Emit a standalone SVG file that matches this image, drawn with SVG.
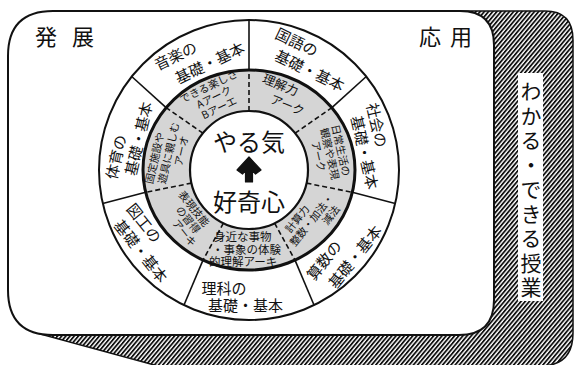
<svg xmlns="http://www.w3.org/2000/svg" width="576" height="365" viewBox="0 0 576 365">
<defs>
<pattern id="hatch" width="3.2" height="3.2" patternUnits="userSpaceOnUse" patternTransform="rotate(40)">
<rect width="3.2" height="3.2" fill="#fff"/>
<rect width="1.8" height="3.2" fill="#111"/>
</pattern>
<style>
text{font-family:"Noto Sans CJK JP","Noto Sans",sans-serif;fill:#111}
.o{font-size:15px;text-anchor:middle}
.i{font-size:10.5px;text-anchor:middle}
.big{font-size:22px}
.c{font-size:24px;text-anchor:middle}
.solid{stroke:#111;stroke-width:1.6;fill:none}
.dash{stroke:#111;stroke-width:1.6;stroke-dasharray:5 3;fill:none}
</style>
</defs>
<rect width="576" height="365" fill="#fff"/>

<g id="frame">
<path id="shadow" d="M460,11 L545,11 Q573,11 573,40 L573,333 Q573,366 540,366 L158,366 L40,334 Z" fill="url(#hatch)" stroke="#111" stroke-width="1.5"/>
<path id="board" d="M53,11 L460,11 Q494,11 494,45 L494,300 Q494,335 459,335 L53,335 Q8,335 8,290 L8,56 Q8,11 53,11 Z" fill="#fff" stroke="#111" stroke-width="2"/>
</g>

<g id="label-hatten"><text class="big" x="35" y="45" letter-spacing="15">発展</text></g>
<g id="label-ouyou"><text class="big" x="419" y="45" letter-spacing="9">応用</text></g>

<g id="side-label">
<rect x="518" y="73" width="25" height="228" fill="#fff"/>
<text x="531" y="81" writing-mode="vertical-rl" style="font-size:21px;letter-spacing:3.5px">わかる・できる授業</text>
</g>

<g id="wheel">
<circle cx="249" cy="170" r="150" fill="#fff" stroke="#111" stroke-width="2"/>
<ellipse cx="249" cy="170" rx="106" ry="100" fill="#d5d5d5" stroke="#111" stroke-width="3"/>
<circle cx="249" cy="170" r="59" fill="#fff" stroke="#111" stroke-width="2.2"/>
</g>

<g id="connectors">
<path class="solid" d="M249,70 L249,20"/>
<path class="solid" d="M331.9,107.6 L366.3,76.5"/>
<path class="solid" d="M352.3,192.3 L395.2,203.4"/>
<path class="solid" d="M295,260.1 L314.1,305.2"/>
<path class="solid" d="M203,260.1 L183.9,305.2"/>
<path class="solid" d="M145.7,192.3 L102.8,203.4"/>
<path class="solid" d="M166.1,107.6 L131.7,76.5"/>
<path class="dash" d="M249,111 L249,70"/>
<path class="dash" d="M295.1,133.2 L331.9,107.6"/>
<path class="dash" d="M306.5,183.1 L352.3,192.3"/>
<path class="dash" d="M274.6,223.2 L295,260.1"/>
<path class="dash" d="M223.4,223.2 L203,260.1"/>
<path class="dash" d="M191.5,183.1 L145.7,192.3"/>
<path class="dash" d="M202.9,133.2 L166.1,107.6"/>
</g>

<g id="ongaku">
<g transform="translate(193,60) rotate(-25.7)"><text class="o" x="-14" y="-5.5">音楽の</text><text class="o" x="14" y="15.5">基礎・基本</text></g>
<g transform="translate(215.6,100.6) rotate(-25.7)"><text class="i" x="0" y="-12">できる楽しさ</text><text class="i" x="0" y="0">Aアーク</text><text class="i" x="0" y="12">Bアーエ</text></g>
</g>

<g id="kokugo">
<g transform="translate(303,57) rotate(25.7)"><text class="o" x="-12" y="-5">国語の</text><text class="o" x="12" y="15">基礎・基本</text></g>
<g transform="translate(284,95) rotate(22)"><text class="i" style="font-size:12.5px" x="-7" y="-3.5">理解力</text><text class="i" style="font-size:12px" x="7" y="12.5">アーク</text></g>
</g>

<g id="shakai">
<g transform="translate(370,139) rotate(77.1)"><text class="o" x="-12" y="-4">社会の</text><text class="o" x="12" y="14">基礎・基本</text></g>
<g transform="translate(329,154) rotate(77.1)"><text class="i" x="-1" y="-8.5">日常生活の</text><text class="i" x="0" y="3">観察や表現</text><text class="i" x="0" y="14.5">アーク</text></g>
</g>

<g id="sansu">
<g transform="translate(340,259) rotate(-51.4)"><text class="o" x="-11" y="-6">算数の</text><text class="o" x="11" y="16">基礎・基本</text></g>
<g transform="translate(311.5,220) rotate(-51.4)"><text class="i" x="-8" y="-8">計算力</text><text class="i" x="0" y="4">整数・加法・</text><text class="i" x="16" y="16">減法</text></g>
</g>

<g id="rika">
<text class="o"><tspan x="224" y="293.5">理科の</tspan><tspan x="245.5" y="310.5">基礎・基本</tspan></text>
<text style="font-size:11.5px"><tspan x="214" y="241">身近な事物</tspan><tspan x="212" y="253.5">・事象の体験</tspan><tspan x="209" y="266">的理解アーキ</tspan></text>
</g>

<g id="zuko">
<g transform="translate(142,237.5) rotate(51.4)"><text class="o" x="-10" y="-5">図工の</text><text class="o" x="10" y="15">基礎・基本</text></g>
<g transform="translate(188,218.6) rotate(51.4)"><text class="i" x="-4" y="-7">表現技能</text><text class="i" x="1" y="4.5">の習得</text><text class="i" x="9" y="15.5">アーキ</text></g>
</g>

<g id="taiiku">
<g transform="translate(128,148) rotate(-77.1)"><text class="o" x="-11.6" y="-4">体育の</text><text class="o" x="11.6" y="14">基礎・基本</text></g>
<g transform="translate(168.5,153) rotate(-77.1)"><text class="i" x="-8" y="-8.5">固定施設や</text><text class="i" x="0" y="4">遊具に親しむ</text><text class="i" x="5" y="16">アーオ</text></g>
</g>

<g id="center">
<text class="c" x="249" y="151">やる気</text>
<path d="M249,157 L261,170 L255.5,174 L252.5,170.5 L252.5,182 L245.5,182 L245.5,170.5 L242.5,174 L237,170 Z" fill="#111" stroke="#111" stroke-width="1.2" stroke-linejoin="round"/>
<text class="c" x="249" y="211">好奇心</text>
</g>
</svg>
